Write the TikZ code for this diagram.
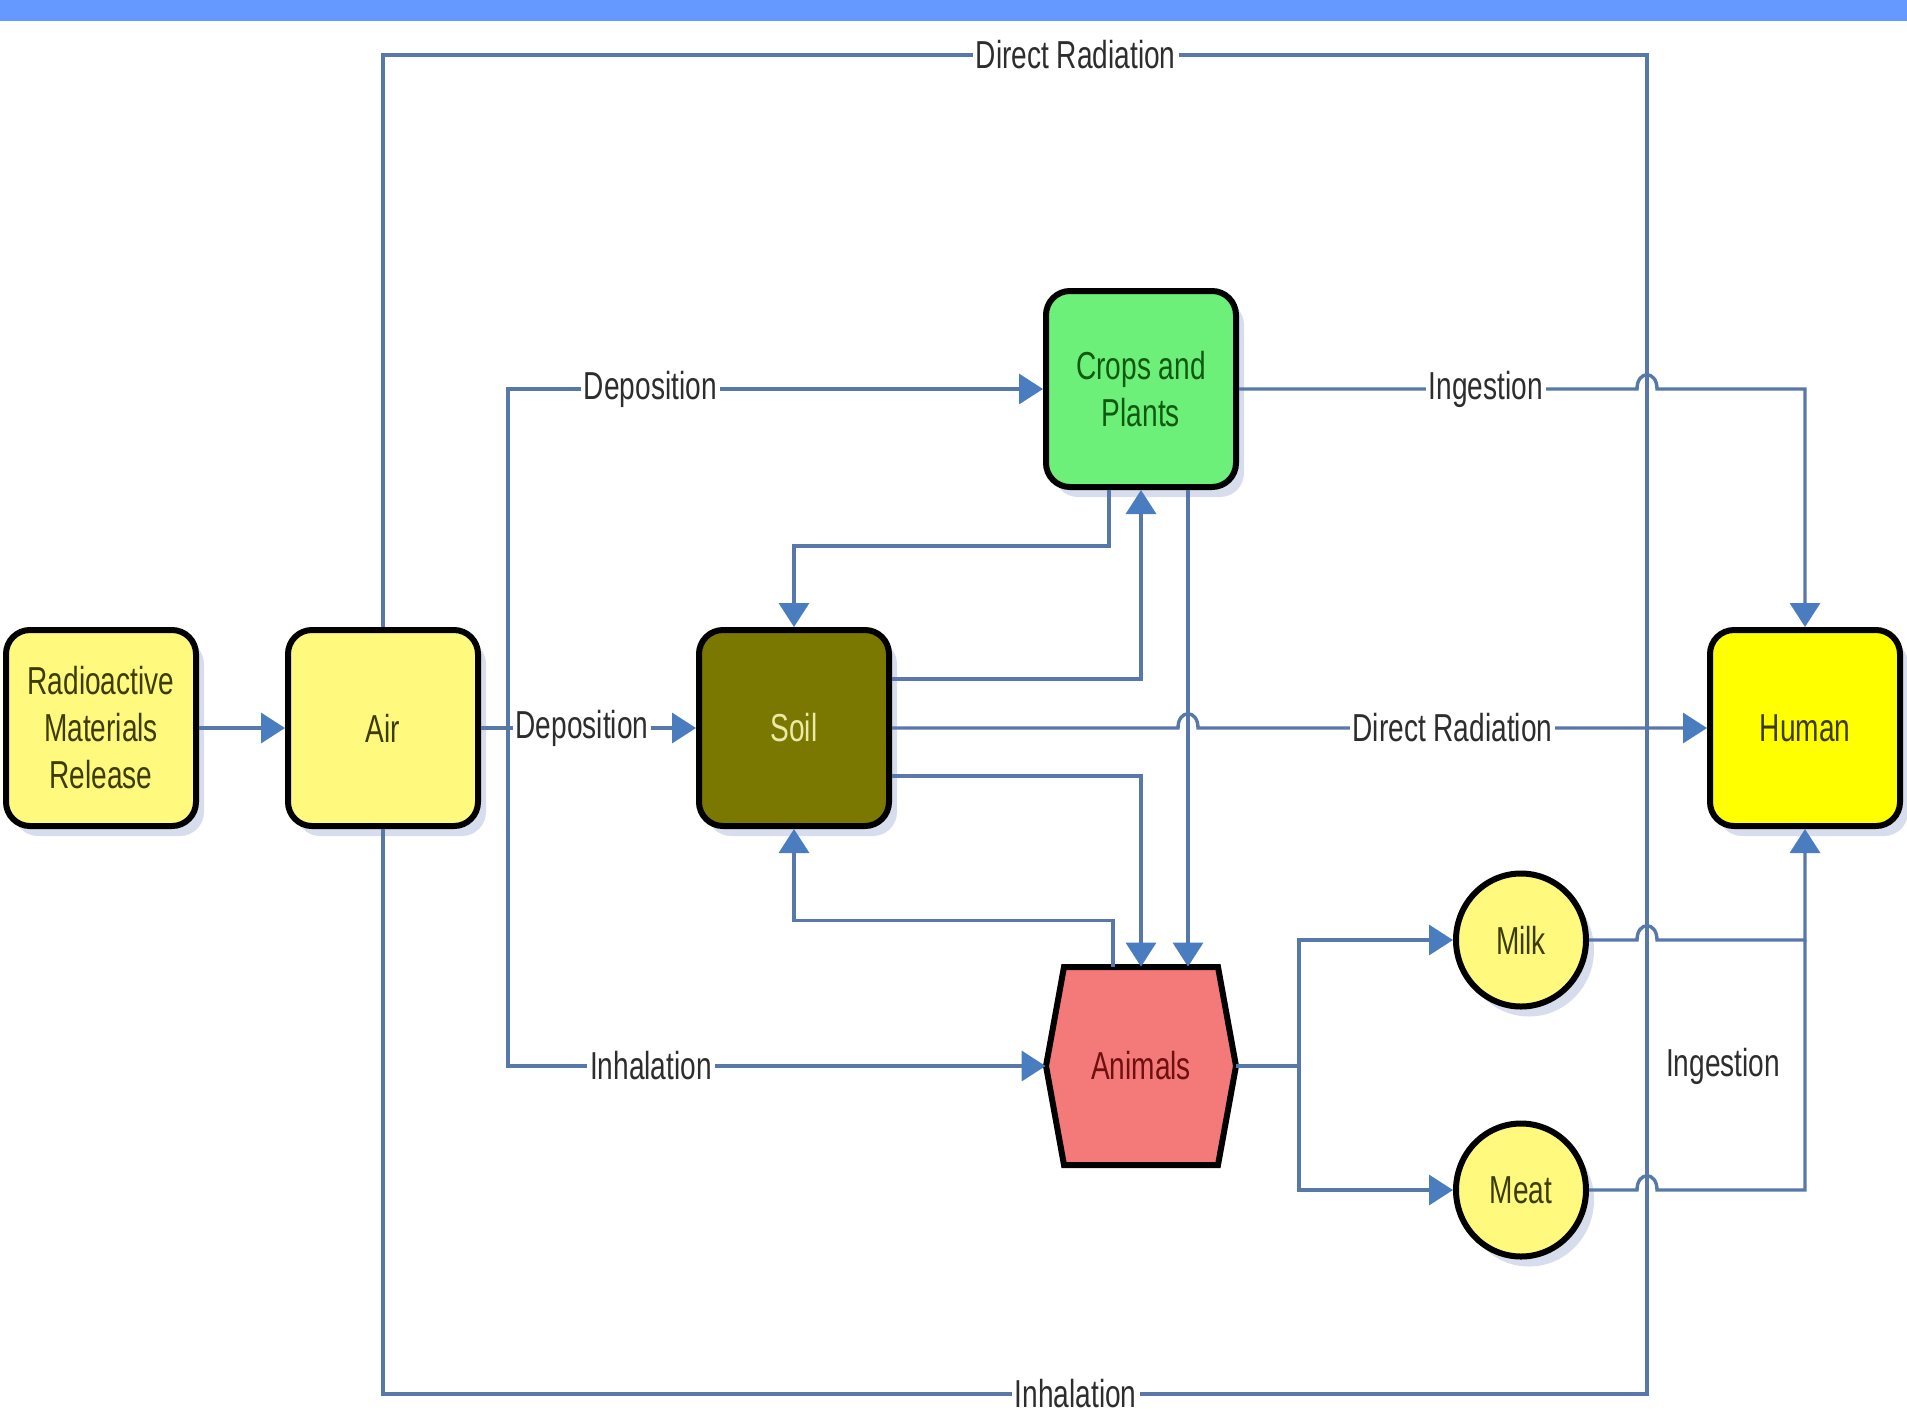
\documentclass[tikz,border=0pt]{standalone}
\usepackage{fontspec}
\setmainfont{Liberation Sans}[FakeStretch=0.72]
\usetikzlibrary{arrows.meta,shapes.geometric,shadows,calc}
\definecolor{topbar}{RGB}{102,153,255}
\definecolor{linecol}{RGB}{88,120,170}
\definecolor{arrowcol}{RGB}{74,124,192}
\definecolor{lyellow}{RGB}{255,250,125}
\definecolor{hyellow}{RGB}{255,255,0}
\definecolor{soilfill}{RGB}{122,120,0}
\definecolor{cropfill}{RGB}{108,240,122}
\definecolor{animfill}{RGB}{244,122,122}
\definecolor{olivetext}{RGB}{60,60,0}
\definecolor{soiltext}{RGB}{235,235,165}
\definecolor{croptext}{RGB}{15,90,15}
\definecolor{animtext}{RGB}{110,16,16}
\definecolor{labeltext}{RGB}{45,45,45}
\definecolor{shadowcol}{RGB}{205,212,232}
\begin{document}
\begin{tikzpicture}[x=0.5pt,y=-0.5pt,
  txt/.style={font=\fontsize{19.5}{23.5}\selectfont},
  shad/.style={drop shadow={shadow xshift=4pt,shadow yshift=-5pt,fill=shadowcol,opacity=0.8}},
  box/.style={txt,draw=black,line width=3pt,rounded corners=12pt,minimum width=95pt,minimum height=98pt,align=center,inner sep=2pt,shad},
  oval/.style={txt,ellipse,draw=black,line width=3pt,minimum width=65pt,minimum height=66.5pt,inner sep=0pt,fill=lyellow,text=olivetext,shad},
  conn/.style={draw=linecol,line width=1.7pt},
  arr/.style={conn,-{Triangle[length=12pt,width=15pt,color=arrowcol]}},
  lbl/.style={txt,fill=white,inner sep=1.5pt,text=labeltext}]
\useasboundingbox (0,0) rectangle (1907,1420);
\fill[topbar] (0,0) rectangle (1907,21);

% nodes
\node[box,fill=lyellow,text=olivetext] (rad) at (101,728) {Radioactive\\Materials\\Release};
\node[box,fill=lyellow,text=olivetext] (air) at (383,728) {Air};
\node[box,fill=soilfill,text=soiltext] (soil) at (794,728) {Soil};
\node[box,fill=cropfill,text=croptext] (crops) at (1141,389) {Crops and\\Plants};
\node[box,fill=hyellow,text=olivetext] (human) at (1805,728) {Human};
\node[oval] (milk) at (1521,940) {Milk};
\node[oval] (meat) at (1521,1190) {Meat};

% animals hexagon
\coordinate (ac) at (1141,1066);
\fill[shadowcol,opacity=0.8,xshift=4pt,yshift=-5pt] ($(ac)+(-95,0)$) -- ($(ac)+(-77,-99)$) -- ($(ac)+(77,-99)$) -- ($(ac)+(95,0)$) -- ($(ac)+(77,99)$) -- ($(ac)+(-77,99)$) -- cycle;
\draw[line width=3pt,fill=animfill,line join=miter] ($(ac)+(-95,0)$) -- ($(ac)+(-77,-99)$) -- ($(ac)+(77,-99)$) -- ($(ac)+(95,0)$) -- ($(ac)+(77,99)$) -- ($(ac)+(-77,99)$) -- cycle;
\node[txt,text=animtext,minimum width=95pt,minimum height=99pt,inner sep=0pt] (animals) at (ac) {Animals};

% helper coordinates
\coordinate (tr) at (1647,55);
\coordinate (br) at (1647,1394);
\coordinate (jr) at (1647,728);
\coordinate (ja) at (508,728);
\coordinate (jm) at (1299,1066);
\coordinate (jh) at (1805,940);

% connectors
\draw[arr] (rad) -- (air);
\draw[arr] (air) -- node[lbl,pos=0.47] {Deposition} (soil);
\draw[conn] (air.north) |- node[lbl,pos=0.774] {Direct Radiation} (tr) -- (jr);
\draw[conn] (air.south) |- node[lbl,pos=0.774] {Inhalation} (br) -- (jr);
\draw[arr] (ja) |- node[lbl,pos=0.633] {Deposition} (crops.west);
\draw[arr] (ja) |- node[lbl,pos=0.633] {Inhalation} (animals.west);

\draw[arr] (crops.east) -- node[lbl,pos=0.62] {Ingestion} (1637,389)
  .. controls (1637,370) and (1657,370) .. (1657,389) -| (human.north);

\draw[arr] ($(crops.south)+(-32,0)$) -- ++(0,56) -| (soil.north);
\draw[arr] ($(soil.east)+(0,-49)$) -| (crops.south);
\draw[arr] ($(crops.south)+(47,0)$) -- ($(animals.north)+(47,0)$);
\draw[arr] ($(soil.east)+(0,48)$) -| (animals.north);
\draw[arr] ($(animals.north)+(-28,0)$) -- ++(0,-46) -| (soil.south);

\draw[arr] (soil.east) -- (1178,728) .. controls (1178,709) and (1198,709) .. (1198,728)
  -- node[lbl,pos=0.5] {Direct Radiation} (human.west);

\draw[conn] (animals.east) -- (jm);
\draw[arr] (jm) |- (milk.west);
\draw[arr] (jm) |- (meat.west);

\draw[arr] (milk.east) -- (1637,940) .. controls (1637,921) and (1657,921) .. (1657,940) -| (human.south);
\draw[conn] (meat.east) -- (1637,1190) .. controls (1637,1171) and (1657,1171) .. (1657,1190) -| (jh);

\node[txt,text=labeltext] (ing2) at (1723,1066) {Ingestion};
\end{tikzpicture}
\end{document}
